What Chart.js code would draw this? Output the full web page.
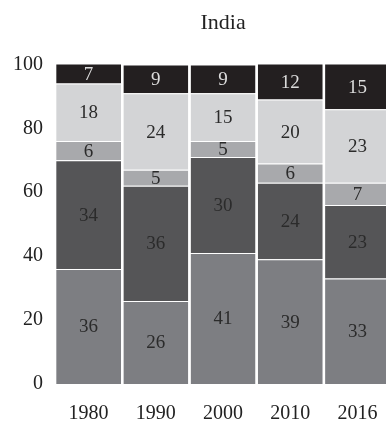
<!DOCTYPE html>
<html>
<head>
<meta charset="utf-8">
<script src="https://cdn.jsdelivr.net/npm/chart.js@4/dist/chart.umd.min.js"></script>
<style>
    html, body { margin: 0; padding: 0; background: #fff; }
    #clip { width: 386px; height: 422px; overflow: hidden; position: relative; }
    #indiaChart { position: absolute; left: 0; top: 0; }
</style>
</head>
<body>
<div id="clip"><canvas id="indiaChart" width="396" height="422"></canvas></div>
<script>
// Years on the x axis
const years = ["1980", "1990", "2000", "2010", "2016"];

// Stacked shares, bottom to top
const seg1 = [36, 26, 41, 39, 33];
const seg2 = [34, 36, 30, 24, 23];
const seg3 = [6, 5, 5, 6, 7];
const seg4 = [18, 24, 15, 20, 23];
const seg5 = [7, 9, 9, 12, 15];

const yTicks = [0, 20, 40, 60, 80, 100];

const serif = "'Liberation Serif', 'DejaVu Serif', serif";

// draws the number in the middle of each stacked piece
const segmentLabels = {
    id: "segmentLabels",
    afterDatasetsDraw(chart) {
        const ctx = chart.ctx;
        const top = chart.chartArea.top;
        ctx.save();
        ctx.font = "19px " + serif;
        ctx.textAlign = "center";
        ctx.textBaseline = "middle";
        chart.data.datasets.forEach((ds, i) => {
            const meta = chart.getDatasetMeta(i);
            meta.data.forEach((bar, j) => {
                const p = bar.getProps(["x", "y", "base"], true);
                const y1 = Math.max(p.y, top);
                ctx.fillStyle = ds.labelColor;
                ctx.fillText(ds.data[j], p.x, (y1 + p.base) / 2 + 1);
            });
        });
        ctx.restore();
    }
};

function makeSet(data, color, labelColor) {
    return {
        data: data,
        backgroundColor: color,
        borderColor: "rgba(255,255,255,0.25)",
        borderWidth: { top: 1, bottom: 0, left: 0, right: 0 },
        borderSkipped: false,
        labelColor: labelColor,
        categoryPercentage: 1,
        barPercentage: 0.965
    };
}

const ctx = document.getElementById("indiaChart").getContext("2d");
new Chart(ctx, {
    type: "bar",
    data: {
        labels: years,
        datasets: [
            makeSet(seg1, "#7d7e82", "#2b2b2b"),
            makeSet(seg2, "#555557", "#2b2b2b"),
            makeSet(seg3, "#a8a9ac", "#2b2b2b"),
            makeSet(seg4, "#d3d4d6", "#2b2b2b"),
            makeSet(seg5, "#231f20", "#dcdcdc")
        ]
    },
    options: {
        responsive: false,
        animation: false,
        layout: { padding: { left: 1, right: 0, top: 10, bottom: 0 } },
        plugins: {
            legend: { display: false },
            tooltip: { enabled: false },
            title: {
                display: true,
                text: "India",
                fullSize: false,
                color: "#222",
                font: { family: serif, size: 22, weight: "normal" },
                padding: { top: 0, bottom: 28 }
            }
        },
        scales: {
            x: {
                stacked: true,
                afterFit: axis => { axis.height = 38; },
                grid: { display: false, drawTicks: false },
                border: { display: false },
                ticks: { color: "#222", padding: 18, font: { family: serif, size: 20 } }
            },
            y: {
                stacked: true,
                min: 0,
                max: 100,
                afterBuildTicks: axis => { axis.ticks = yTicks.map(v => ({ value: v })); },
                grid: { display: false, drawTicks: false },
                border: { display: false },
                ticks: { color: "#222", padding: 12, font: { family: serif, size: 20 } }
            }
        }
    },
    plugins: [segmentLabels]
});
</script>
</body>
</html>
